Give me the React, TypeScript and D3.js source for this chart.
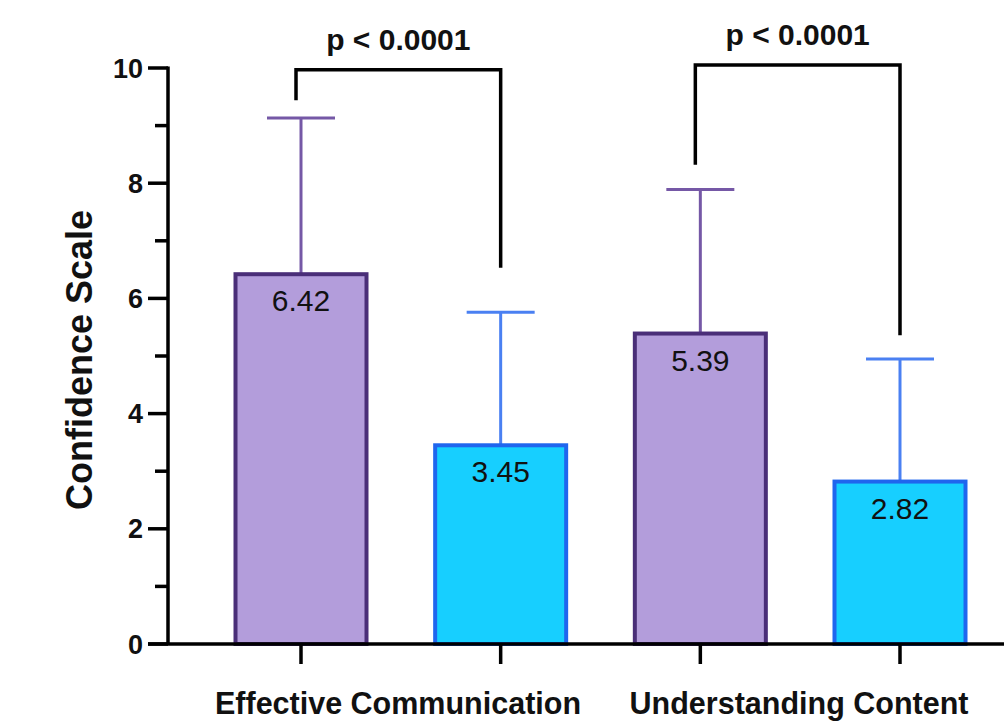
import React from "react";
import * as d3 from "d3";

const categories = ["Effective Communication", "Understanding Content"];
const seriesNames = ["Group 1", "Group 2"];
const barIds = ["EC-1", "EC-2", "UC-1", "UC-2"];
const barSeries = [0, 1, 0, 1];
const means = [6.42, 3.45, 5.39, 2.82];
const upperError = [9.13, 5.76, 7.89, 4.95];
const yTicks = [0, 2, 4, 6, 8, 10];
const yMinorTicks = [1, 3, 5, 7, 9];
// brackets: [leftBar, rightBar, leftLegBottom, rightLegBottom, top]
const bracketLeft = [0, 2];
const bracketRight = [1, 3];
const bracketLeftBottom = [9.44, 8.32];
const bracketRightBottom = [6.53, 5.36];
const bracketTop = [9.97, 10.05];
const pLabels = ["p < 0.0001", "p < 0.0001"];

const W = 1004;
const H = 724;
const FILL = ["#B39DDB", "#17CFFF"];
const STROKE = ["#4A2E78", "#1F66EE"];
const ERR = ["#7558A6", "#4A80F2"];
const FONT = "'Liberation Sans', Arial, Helvetica, sans-serif";

export default function App() {
  const y = d3.scaleLinear().domain([0, 10]).range([644, 68]);
  const x = d3.scalePoint<string>().domain(barIds).range([301, 900]);
  const groupX = d3.scalePoint<string>().domain(categories).range([398, 799]);
  const barW = 131;
  const capW = 68;
  const axisX = 168;

  return (
    <svg
      width={W}
      height={H}
      style={{ position: "absolute", left: 0, top: 0, background: "#fff" }}
      fontFamily={FONT}
    >
      {/* bars */}
      {barIds.map((id, i) => {
        const s = barSeries[i];
        const cx = x(id)!;
        return (
          <g key={id}>
            <line
              x1={cx}
              x2={cx}
              y1={y(means[i])}
              y2={y(upperError[i])}
              stroke={ERR[s]}
              strokeWidth={3}
            />
            <line
              x1={cx - capW / 2}
              x2={cx + capW / 2}
              y1={y(upperError[i])}
              y2={y(upperError[i])}
              stroke={ERR[s]}
              strokeWidth={3}
            />
            <rect
              x={cx - barW / 2}
              y={y(means[i])}
              width={barW}
              height={y(0) - y(means[i])}
              fill={FILL[s]}
              stroke={STROKE[s]}
              strokeWidth={4}
            />
            <text
              x={cx}
              y={y(means[i]) + 37}
              textAnchor="middle"
              fontSize={30}
              fill="#111"
            >
              {means[i].toFixed(2)}
            </text>
          </g>
        );
      })}

      {/* y axis */}
      <line x1={axisX} x2={axisX} y1={y(10) - 1.5} y2={y(0)} stroke="#000" strokeWidth={3.5} />
      {yTicks.map((t) => (
        <g key={t}>
          <line x1={148} x2={axisX} y1={y(t)} y2={y(t)} stroke="#000" strokeWidth={3.5} />
          <text
            x={143}
            y={y(t) + 9.5}
            textAnchor="end"
            fontSize={27}
            fontWeight="bold"
            fill="#111"
          >
            {t}
          </text>
        </g>
      ))}
      {yMinorTicks.map((t) => (
        <line key={t} x1={155} x2={axisX} y1={y(t)} y2={y(t)} stroke="#000" strokeWidth={3.5} />
      ))}

      {/* x axis */}
      <line x1={148} x2={W} y1={y(0)} y2={y(0)} stroke="#000" strokeWidth={3.5} />
      {barIds.map((id) => (
        <line key={id} x1={x(id)!} x2={x(id)!} y1={y(0)} y2={664} stroke="#000" strokeWidth={3.5} />
      ))}
      {categories.map((c) => (
        <text
          key={c}
          x={groupX(c)!}
          y={714}
          textAnchor="middle"
          fontSize={30.5}
          fontWeight="bold"
          fill="#111"
        >
          {c}
        </text>
      ))}

      {/* y label */}
      <text
        transform={`translate(92,360) rotate(-90)`}
        textAnchor="middle"
        fontSize={36}
        fontWeight="bold"
        fill="#111"
      >
        Confidence Scale
      </text>

      {/* significance brackets */}
      {bracketLeft.map((lb, k) => {
        const x1 = x(barIds[lb])! - 5;
        const x2 = x(barIds[bracketRight[k]])!;
        const top = y(bracketTop[k]);
        return (
          <g key={k}>
            <path
              d={`M${x1},${y(bracketLeftBottom[k])} V${top} H${x2} V${y(bracketRightBottom[k])}`}
              fill="none"
              stroke="#000"
              strokeWidth={3.5}
            />
            <text
              x={(x1 + x2) / 2}
              y={top - 20}
              textAnchor="middle"
              fontSize={30}
              fontWeight="bold"
              fill="#111"
            >
              {pLabels[k]}
            </text>
          </g>
        );
      })}
    </svg>
  );
}
